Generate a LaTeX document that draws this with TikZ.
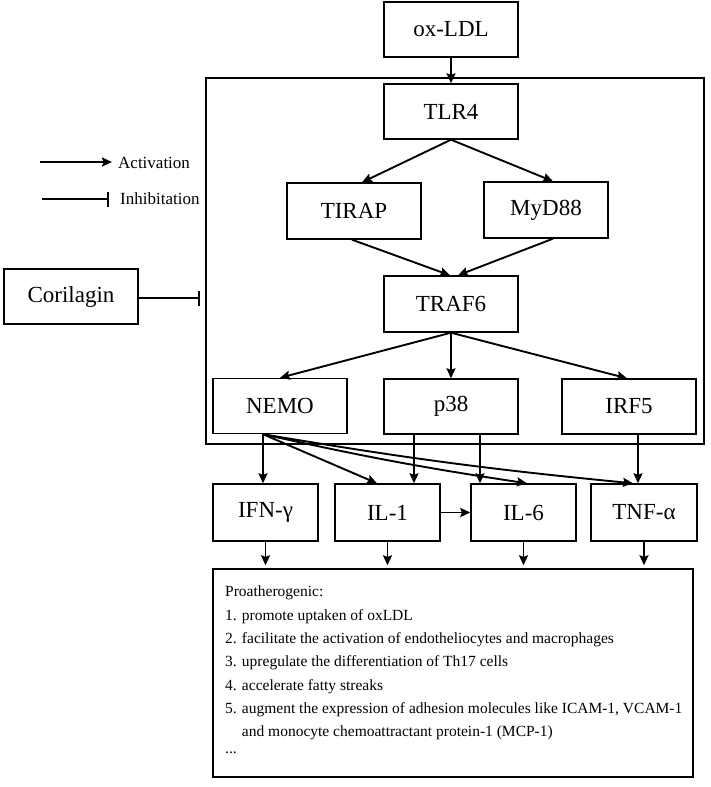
\documentclass[tikz,border=0pt]{standalone}
\usepackage{fontspec}
\setmainfont{Liberation Serif}
\usetikzlibrary{arrows.meta,calc}
\begin{document}
\begin{tikzpicture}[x=1pt,y=-1pt,
  box/.style={draw,line width=1.4pt,rectangle,inner sep=0pt,minimum width=134pt,minimum height=55pt,font=\fontsize{23}{27}\selectfont},
  cbox/.style={box,minimum width=105pt,minimum height=57pt},
  arr/.style={line width=1.9pt,-{Stealth[length=10pt,width=9pt,inset=1.5pt]}},
  inh/.style={line width=1.9pt,-{Bar[width=15pt,line width=1.9pt]}},
  legtext/.style={anchor=west,inner sep=0pt,font=\fontsize{17}{20}\selectfont}]
\useasboundingbox (0,0) rectangle (711,787);
% container
\node[draw,line width=1.4pt,rectangle,inner sep=0pt,minimum width=498pt,minimum height=366pt] (cont) at (455,261) {};
% nodes
\node[box] (oxldl) at (451,29.5) {ox-LDL};
\node[box] (tlr4) at (451,111.5) {TLR4};
\node[box,minimum height=56pt] (tirap) at (354,211) {TIRAP};
\node[box,minimum width=124pt,minimum height=56pt] (myd88) at (546,210) {MyD88};
\node[box,minimum height=56pt] (traf6) at (451,304) {TRAF6};
\node[box] (nemo) at (280,406) {NEMO};
\node[box] (p38) at (451,406.5) {p38};
\node[box] (irf5) at (629,406.5) {IRF5};
\node[cbox] (ifng) at (265.5,512.5) {IFN-γ};
\node[cbox] (il1) at (387.5,512.5) {IL-1};
\node[cbox] (il6) at (523.5,512.5) {IL-6};
\node[cbox,minimum width=106pt] (tnfa) at (644,512.5) {TNF-α};
\node[box] (cori) at (71,296.5) {Corilagin};
\node[draw,line width=1.4pt,rectangle,inner sep=0pt,minimum width=480pt,minimum height=208pt] (out) at (453,673) {};
\node[anchor=base west,inner sep=0pt,align=left,font=\fontsize{15.5}{23.3}\selectfont] (outtext) at (225,753)
  {Proatherogenic:\\
   1. promote uptaken of oxLDL\\
   2. facilitate the activation of endotheliocytes and macrophages\\
   3. upregulate the differentiation of Th17 cells\\
   4. accelerate fatty streaks\\
   5. augment the expression of adhesion molecules like ICAM-1, VCAM-1\\
   \phantom{5. }and monocyte chemoattractant protein-1 (MCP-1)\\[-7pt]
   ...};
% legend
\coordinate (a1) at (40,162);
\coordinate (a2) at (112,162);
\coordinate (b1) at (42,199);
\coordinate (b2) at (109,199);
\draw[arr] (a1) -- (a2);
\draw[inh] (b1) -- (b2);
\node[legtext] (acttext) at (118,163) {Activation};
\node[legtext] (inhtext) at (120,199) {Inhibitation};
% inhibition by corilagin
\coordinate (cbar) at (200,298);
\draw[inh] (cori.east |- cbar) -- (cbar);
% arrows
\draw[arr] (oxldl.south) -- (tlr4.north);
\draw[arr] (tlr4.south) -- ($(tirap.north)+(8,0)$);
\draw[arr] (tlr4.south) -- ($(myd88.north)+(7,0)$);
\draw[arr] ($(tirap.south)+(-2,0)$) -- ($(traf6.north)+(-1,0)$);
\draw[arr] ($(myd88.south)+(7,0)$) -- ($(traf6.north)+(7,0)$);
\draw[arr] (traf6.south) -- (nemo.north);
\draw[arr] (traf6.south) -- (p38.north);
\draw[arr] (traf6.south) -- ($(irf5.north)+(-2,0)$);
\coordinate (ns) at ($(nemo.south)+(-17,0)$);
\draw[arr] (ns) -- ($(ifng.north)+(-2.5,0)$);
\draw[arr] (ns) -- ($(il1.north)+(-10.5,0)$);
\draw[arr] (ns) to[bend right=2] ($(il6.north)+(3.5,0)$);
\draw[arr] (ns) to[bend right=2] ($(tnfa.north)+(-11,0)$);
\coordinate (p1) at ($(p38.south)+(-37,0)$);
\coordinate (p2) at ($(p38.south)+(29,0)$);
\draw[arr] (p1) -- (p1 |- il1.north);
\draw[arr] (p2) -- (p2 |- il6.north);
\coordinate (i1) at ($(irf5.south)+(9,0)$);
\draw[arr] (i1) -- (i1 |- tnfa.north);
\draw[arr] (il1.east) -- (il6.west);
\draw[arr,shorten >=3pt] (ifng.south) -- (ifng.south |- out.north);
\draw[arr,shorten >=3pt] (il1.south) -- (il1.south |- out.north);
\draw[arr,shorten >=3pt] (il6.south) -- (il6.south |- out.north);
\draw[arr,shorten >=3pt] (tnfa.south) -- (tnfa.south |- out.north);
\end{tikzpicture}
\end{document}
